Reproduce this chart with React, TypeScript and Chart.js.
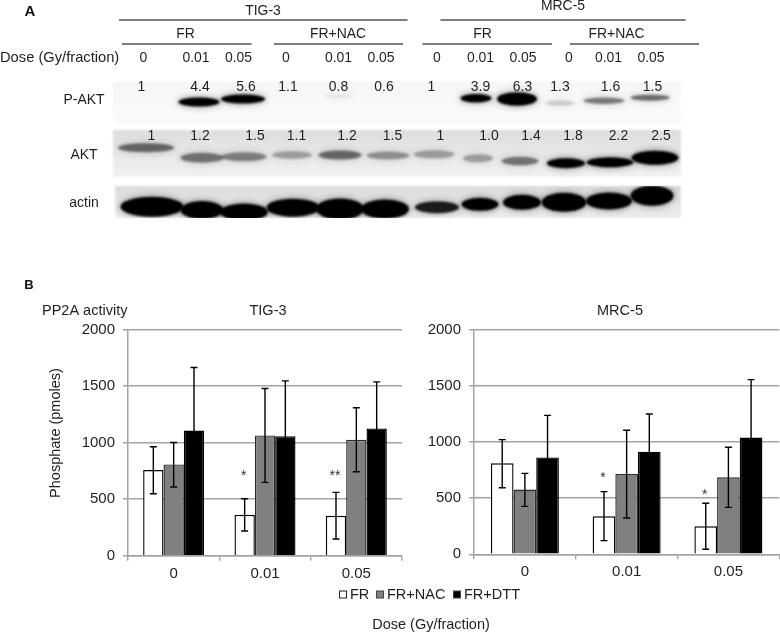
import React, { useEffect, useRef } from "react";
import { Chart, registerables } from "chart.js";

Chart.register(...registerables);

const FONT = '"Liberation Sans", Arial, sans-serif';
const INK = "#1f1f1f";
const GRID = "#a3a3a3";

// Panel B
const categories = ["0", "0.01", "0.05"];
const seriesNames = ["FR", "FR+NAC", "FR+DTT"];
const seriesFill = ["#ffffff", "#808080", "#000000"];
const seriesEdge = ["#000000", "#2b2b2b", "#000000"];

const tigFR = [757, 362, 353];
const tigNAC = [807, 1063, 1025];
const tigDTT = [1107, 1057, 1125];
const tigFRHigh = [963, 504, 560];
const tigNACHigh = [1001, 1479, 1308];
const tigDTTHigh = [1664, 1546, 1537];
const tigFRLow = [548, 218, 147];
const tigNACLow = [607, 648, 742];
const tigDTTLow = [550, 570, 710];
const tigStars = ["", "*", "**"];
const tigStarAt = [0, 721, 721];

const mrcFR = [810, 338, 249];
const mrcNAC = [576, 715, 685];
const mrcDTT = [863, 914, 1039];
const mrcFRHigh = [1021, 558, 454];
const mrcNACHigh = [721, 1104, 953];
const mrcDTTHigh = [1237, 1249, 1555];
const mrcFRLow = [593, 122, 45];
const mrcNACLow = [427, 323, 418];
const mrcDTTLow = [490, 580, 525];
const mrcStars = ["", "*", "*"];
const mrcStarAt = [0, 697, 549];

// Panel A: labels
const doseLabels = ["0", "0.01", "0.05", "0", "0.01", "0.05", "0", "0.01", "0.05", "0", "0.01", "0.05"];
const doseX = [143.5, 196, 238.5, 286, 338.5, 381, 437, 480.5, 523, 569, 608.5, 651];
const pAktRatios = ["1", "4.4", "5.6", "1.1", "0.8", "0.6", "1", "3.9", "6.3", "1.3", "1.6", "1.5"];
const pAktRatioX = [141.5, 200, 246, 288, 338.5, 384, 431.5, 480.5, 522.5, 560, 610.5, 652.5];
const aktRatios = ["1", "1.2", "1.5", "1.1", "1.2", "1.5", "1", "1.0", "1.4", "1.8", "2.2", "2.5"];
const aktRatioX = [151.5, 200, 255, 296.5, 347, 392.5, 440.5, 489, 531, 573, 618.5, 661];

// Panel A: blot bands, one column per lane
const pAktX = [199, 243, 476, 517, 560, 604, 650, 339];
const pAktY = [102, 99, 98.3, 99, 103, 100.7, 97.7, 96];
const pAktW = [38, 41, 28, 37, 26, 38, 36, 27];
const pAktH = [6, 6, 5.5, 10.5, 2.5, 3.5, 3, 1.5];
const pAktDark = [1, 1, 1, 1, 0.15, 0.45, 0.5, 0.05];
const aktX = [146, 202, 244, 292, 340, 388, 434, 478, 520, 566, 610, 655];
const aktY = [147.7, 157.7, 156.7, 155, 155, 155.5, 154.3, 158.3, 161, 163.3, 162.3, 157.7];
const aktW = [53, 40, 42, 37, 40, 40, 38, 27, 34, 35, 44, 44];
const aktH = [6, 7, 6, 4.5, 6, 5, 5, 5, 5.5, 7, 7, 11];
const aktDark = [0.5, 0.45, 0.4, 0.28, 0.5, 0.33, 0.28, 0.28, 0.45, 1, 1, 1];
const actinX = [152, 202, 244, 293, 340, 385, 437, 480, 522, 564, 609, 652];
const actinY = [206.7, 210, 212, 207.7, 209, 209, 207.3, 204.3, 202.3, 202.3, 201, 195.7];
const actinW = [60, 40, 45, 50, 45, 45, 41, 34, 35, 42, 43, 40];
const actinH = [17, 15, 14, 15, 18, 16, 9, 10, 12, 16, 14, 17];
const actinDark = [1, 1, 1, 1, 1, 1, 0.85, 1, 1, 1, 1, 1];

const ruleSpans = [[119, 407.5, 20], [440.5, 685.5, 20], [122, 251.5, 44], [274, 403, 44], [422.5, 552, 44], [570, 699, 44]];

function put(ctx: any, s: string, x: number, y: number, size: number, squeeze = 1, align = "center", weight = "", colour = INK) {
  ctx.save();
  ctx.translate(x, y);
  ctx.scale(squeeze, 1);
  ctx.font = `${weight} ${size}px ${FONT}`;
  ctx.fillStyle = colour;
  ctx.textAlign = align;
  ctx.textBaseline = "middle";
  ctx.fillText(s, 0, 0);
  ctx.restore();
}

const backdropPlugin = {
  id: "backdrop",
  beforeDatasetsDraw(chart: any) {
    const { ctx, scales } = chart;
    const X = (v: number) => scales.x.getPixelForValue(v);
    const Y = (v: number) => scales.y.getPixelForValue(v);
    const strips = [
      [113, 681, 82, 125, "#f6f6f6", "#fbfbfb"],
      [113, 681, 130, 177, "#dedede", "#f1f1f1"],
      [115, 681, 186, 218, "#dcdcdc", "#ececec"],
    ] as any[];
    strips.forEach(([a, b, c, d, c1, c2]) => {
      const g = ctx.createLinearGradient(0, Y(c), 0, Y(d));
      g.addColorStop(0, c1);
      g.addColorStop(1, c2);
      ctx.save();
      ctx.filter = "blur(1px)";
      ctx.fillStyle = g;
      ctx.fillRect(X(a), Y(c), X(b) - X(a), Y(d) - Y(c));
      ctx.restore();
    });
    const rows = [
      [pAktX, pAktY, pAktW, pAktH, pAktDark, 82, 125],
      [aktX, aktY, aktW, aktH, aktDark, 130, 177],
      [actinX, actinY, actinW, actinH, actinDark, 186, 218],
    ] as any[];
    rows.forEach(([xs, ys, ws, hs, ds, t, b]) => {
      ctx.save();
      ctx.beginPath();
      ctx.rect(X(113), Y(t), X(681) - X(113), Y(b) - Y(t));
      ctx.clip();
      xs.forEach((x: number, i: number) => {
        const pill = (grow: number, alpha: number, blur: number) => {
          const w = ws[i] + grow * 2, h = hs[i] + grow * 2;
          ctx.filter = `blur(${blur}px)`;
          ctx.fillStyle = `rgba(0,0,0,${alpha})`;
          ctx.beginPath();
          ctx.ellipse(X(x), Y(ys[i]), w / 2, h / 2, 0, 0, Math.PI * 2);
          ctx.fill();
        };
        pill(3, ds[i] * 0.3, 3);
        pill(1.5, ds[i], 1.2);
      });
      ctx.restore();
    });
  },
  afterDatasetsDraw(chart: any) {
    const { ctx } = chart;
    const sq = 0.93;
    put(ctx, "A", 30, 12, 15, 1, "center", "bold", "#111");
    put(ctx, "TIG-3", 263, 11, 15, sq);
    put(ctx, "MRC-5", 563, 6, 15, sq);
    put(ctx, "FR", 185.5, 34, 15, sq);
    put(ctx, "FR+NAC", 338, 34, 15, sq);
    put(ctx, "FR", 482.5, 34, 15, sq);
    put(ctx, "FR+NAC", 616.5, 34, 15, sq);
    put(ctx, "Dose (Gy/fraction)", 0, 58, 15, 0.98, "left");
    doseLabels.forEach((s, i) => put(ctx, s, doseX[i], 58, 15, sq));
    pAktRatios.forEach((s, i) => put(ctx, s, pAktRatioX[i], 87, 15, sq));
    aktRatios.forEach((s, i) => put(ctx, s, aktRatioX[i], 136, 15, sq));
    put(ctx, "P-AKT", 84, 100, 15, sq);
    put(ctx, "AKT", 84, 155, 15, sq);
    put(ctx, "actin", 84, 203, 15, sq);

    put(ctx, "B", 29, 285, 13, 1, "center", "bold", "#111");
    put(ctx, "PP2A activity", 42, 311, 14.5, 1, "left");
    put(ctx, "TIG-3", 268, 311, 14.5);
    put(ctx, "MRC-5", 620, 311, 14.5);
    ctx.save();
    ctx.translate(56, 433);
    ctx.rotate(-Math.PI / 2);
    put(ctx, "Phosphate (pmoles)", 0, 0, 14.5);
    ctx.restore();

    const swatchX = [339, 376, 453];
    const nameX = [350, 387, 464];
    seriesNames.forEach((name, i) => {
      ctx.fillStyle = seriesFill[i];
      ctx.strokeStyle = i === 0 ? "#222" : "#444";
      ctx.lineWidth = 1;
      ctx.fillRect(swatchX[i] + 0.5, 591, 7, 7);
      ctx.strokeRect(swatchX[i] + 0.5, 591, 7, 7);
      put(ctx, name, nameX[i], 594.5, 14.5, 1, "left");
    });
    put(ctx, "Dose (Gy/fraction)", 431, 625, 14.5);
  },
};

const whiskerPlugin = {
  id: "whiskers",
  afterDatasetsDraw(chart: any, _a: any, opts: any) {
    const { ctx, scales } = chart;
    ctx.save();
    ctx.strokeStyle = "#000";
    ctx.lineWidth = 1.4;
    opts.high.forEach((arr: number[], ds: number) => {
      const meta = chart.getDatasetMeta(ds);
      arr.forEach((hi: number, i: number) => {
        const x = meta.data[i].x;
        const yH = scales.y.getPixelForValue(hi);
        const yL = scales.y.getPixelForValue(opts.low[ds][i]);
        ctx.beginPath();
        ctx.moveTo(x, yH); ctx.lineTo(x, yL);
        ctx.moveTo(x - 3.5, yH); ctx.lineTo(x + 3.5, yH);
        ctx.moveTo(x - 3.5, yL); ctx.lineTo(x + 3.5, yL);
        ctx.stroke();
      });
    });
    ctx.restore();
    const meta0 = chart.getDatasetMeta(0);
    opts.stars.forEach((s: string, i: number) => {
      if (s) put(ctx, s, meta0.data[i].x - 1, scales.y.getPixelForValue(opts.starAt[i]) + 2, 14, 1, "center", "", "#333");
    });
  },
};

function barConfig(values: number[][], high: number[][], low: number[][], stars: string[], starAt: number[], top: number, xHeight: number, right: number): any {
  return {
    type: "bar",
    data: {
      labels: categories,
      datasets: values.map((v, i) => ({
        label: seriesNames[i],
        data: v,
        backgroundColor: seriesFill[i],
        borderColor: seriesEdge[i],
        borderWidth: 1.4,
        barPercentage: 1,
        categoryPercentage: 0.668,
      })),
    },
    options: {
      responsive: false,
      animation: false,
      layout: { padding: { top, right, left: 0, bottom: 0 } },
      plugins: {
        legend: { display: false },
        title: { display: false },
        tooltip: { enabled: false },
        whiskers: { high, low, stars, starAt },
      },
      scales: {
        x: {
          afterFit: (s: any) => { s.height = xHeight; },
          grid: { drawOnChartArea: false, drawTicks: true, tickLength: 5, color: GRID, lineWidth: 1.4 },
          border: { color: GRID, width: 1.5 },
          ticks: { color: INK, font: { family: FONT, size: 15 }, padding: 4, maxRotation: 0 },
        },
        y: {
          min: 0,
          max: 2000,
          afterFit: (s: any) => { s.width = 128; },
          grid: { color: GRID, lineWidth: 1.5, tickLength: 5 },
          border: { color: GRID, width: 1.5 },
          ticks: { stepSize: 500, color: INK, font: { family: FONT, size: 15 }, padding: 8, callback: (v: any) => String(v) },
        },
      },
    },
    plugins: [whiskerPlugin],
  };
}

export default function App() {
  const backRef = useRef<HTMLCanvasElement>(null);
  const leftRef = useRef<HTMLCanvasElement>(null);
  const rightRef = useRef<HTMLCanvasElement>(null);

  useEffect(() => {
    const back = new Chart(backRef.current as any, {
      type: "line",
      data: {
        datasets: ruleSpans.map(([a, b, y]) => ({
          data: [{ x: a, y }, { x: b, y }],
          borderColor: "#000",
          borderWidth: 1.2,
          pointRadius: 0,
        })),
      },
      options: {
        responsive: false,
        animation: false,
        layout: { padding: 0 },
        plugins: { legend: { display: false }, tooltip: { enabled: false } },
        scales: {
          x: { type: "linear", min: 0, max: 780, display: false },
          y: { type: "linear", min: 0, max: 633, reverse: true, display: false },
        },
      },
      plugins: [backdropPlugin],
    } as any);
    const left = new Chart(
      leftRef.current as any,
      barConfig(
        [tigFR, tigNAC, tigDTT],
        [tigFRHigh, tigNACHigh, tigDTTHigh],
        [tigFRLow, tigNACLow, tigDTTLow],
        tigStars, tigStarAt, 29.5, 44.3, 1
      )
    );
    const right = new Chart(
      rightRef.current as any,
      barConfig(
        [mrcFR, mrcNAC, mrcDTT],
        [mrcFRHigh, mrcNACHigh, mrcDTTHigh],
        [mrcFRLow, mrcNACLow, mrcDTTLow],
        mrcStars, mrcStarAt, 29.7, 45.7, 0.7
      )
    );
    return () => {
      back.destroy();
      left.destroy();
      right.destroy();
    };
  }, []);

  const pos = (l: number, t: number): React.CSSProperties => ({ position: "absolute", left: l, top: t, display: "block" });
  return (
    <div style={{ position: "absolute", left: 0, top: 0, width: 780, height: 633, background: "#fff", overflow: "hidden" }}>
      <canvas ref={backRef} width={780} height={633} style={pos(0, 0)} />
      <canvas ref={leftRef} width={403} height={300} style={pos(0, 300)} />
      <canvas ref={rightRef} width={434} height={300} style={pos(346, 300)} />
    </div>
  );
}
